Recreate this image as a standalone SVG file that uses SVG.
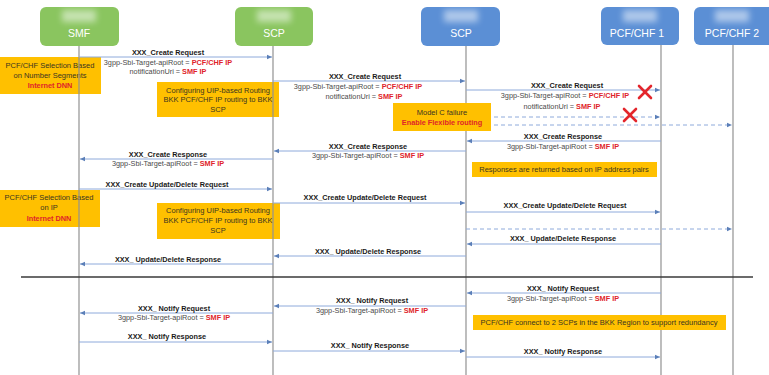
<svg xmlns="http://www.w3.org/2000/svg" width="769" height="375" viewBox="0 0 769 375">
<style>
.t{font-family:"Liberation Sans",Arial,sans-serif;font-size:7.3px;text-anchor:middle}
.lbl{font-weight:bold;fill:#1a1a1a}
.sub{fill:#4a4a4a}
.red{fill:#e0242a;font-weight:bold}
.bt{fill:#3a3520;font-size:7.5px}
.box{fill:#ffc000}
.hdr{font-family:"Liberation Sans",Arial,sans-serif;font-size:10.5px;fill:#ffffff;text-anchor:middle}
.g{fill:#8ac55f}
.b{fill:#5b8fd5}
.life{stroke:#929292;stroke-width:1.2}
.msg{stroke:#8eaadb;stroke-width:1;fill:none;marker-end:url(#ah)}
.dash{stroke-dasharray:4 3}
.x{stroke:#e3262c;stroke-width:2.6;stroke-linecap:round}
.logo{fill:#ffffff;opacity:0.5}
</style>
<defs>
<marker id="ah" markerWidth="6" markerHeight="6" refX="5" refY="3" orient="auto" markerUnits="userSpaceOnUse">
<path d="M0,0.8 L5,3 L0,5.2 z" fill="#5b7fb8"/>
</marker>
<filter id="blur" x="-50%" y="-50%" width="200%" height="200%"><feGaussianBlur stdDeviation="3"/></filter>
</defs>
<rect width="769" height="375" fill="#ffffff"/>

<g id="lifelines">
<line class="life" x1="79" y1="46" x2="79" y2="375"/>
<line class="life" x1="273" y1="46" x2="273" y2="375"/>
<line class="life" x1="466" y1="46" x2="466" y2="375"/>
<line class="life" x1="661" y1="45" x2="661" y2="375"/>
<line class="life" x1="733" y1="45" x2="733" y2="375"/>
</g>

<g id="SMF">
<rect class="g" x="40" y="7" width="79" height="39" rx="6"/>
<rect class="logo" x="62" y="10" width="34" height="12" filter="url(#blur)"/>
<text class="hdr" x="79" y="37">SMF</text>
</g>
<g id="SCP1">
<rect class="g" x="235" y="7" width="78" height="39" rx="6"/>
<rect class="logo" x="257" y="10" width="34" height="12" filter="url(#blur)"/>
<text class="hdr" x="274" y="37">SCP</text>
</g>
<g id="SCP2">
<rect class="b" x="421" y="7" width="79" height="39" rx="6"/>
<rect class="logo" x="444" y="10" width="34" height="12" filter="url(#blur)"/>
<text class="hdr" x="461" y="37">SCP</text>
</g>
<g id="PCF1">
<rect class="b" x="601" y="7" width="78" height="38" rx="6"/>
<rect class="logo" x="623" y="10" width="34" height="12" filter="url(#blur)"/>
<text class="hdr" x="637" y="37">PCF/CHF 1</text>
</g>
<g id="PCF2">
<rect class="b" x="694" y="7" width="80" height="38" rx="6"/>
<rect class="logo" x="715" y="10" width="34" height="12" filter="url(#blur)"/>
<text class="hdr" x="732" y="37">PCF/CHF 2</text>
</g>

<g id="noteNumberSeg">
<rect class="box" x="0" y="57" width="101" height="37"/>
<text class="t bt" x="50" y="68">PCF/CHF Selection Based</text>
<text class="t bt" x="50" y="78">on Number Segments</text>
<text class="t red" x="50" y="88">Internet DNN</text>
</g>
<g id="noteUIP1">
<rect class="box" x="157" y="82" width="122" height="35"/>
<text class="t bt" x="218" y="93">Configuring UIP-based Routing</text>
<text class="t bt" x="218" y="102">BKK PCF/CHF IP routing to BKK</text>
<text class="t bt" x="218" y="112">SCP</text>
</g>
<g id="noteIP">
<rect class="box" x="0" y="190" width="100" height="37"/>
<text class="t bt" x="49" y="200">PCF/CHF Selection Based</text>
<text class="t bt" x="49" y="210">on IP</text>
<text class="t red" x="49" y="221">Internet DNN</text>
</g>
<g id="noteUIP2">
<rect class="box" x="157" y="203" width="123" height="36"/>
<text class="t bt" x="218" y="213">Configuring UIP-based Routing</text>
<text class="t bt" x="218" y="223">BKK PCF/CHF IP routing to BKK</text>
<text class="t bt" x="218" y="233">SCP</text>
</g>
<g id="lifelineOverlay">
<line class="life" x1="79" y1="57" x2="79" y2="94"/>
<line class="life" x1="79" y1="190" x2="79" y2="227"/>
<line class="life" x1="273" y1="82" x2="273" y2="117"/>
<line class="life" x1="273" y1="203" x2="273" y2="239"/>
</g>

<g id="connectors">
<line class="msg" x1="79" y1="57" x2="272" y2="57"/>
<line class="msg" x1="273" y1="81" x2="465" y2="81"/>
<line class="msg" x1="466" y1="90" x2="660" y2="90"/>
<line class="msg dash" x1="466" y1="117" x2="660" y2="117"/>
<line class="msg dash" x1="466" y1="125" x2="732" y2="125"/>
<line class="msg" x1="661" y1="141" x2="467" y2="141"/>
<line class="msg" x1="466" y1="151" x2="274" y2="151"/>
<line class="msg" x1="273" y1="159" x2="80" y2="159"/>
<line class="msg" x1="79" y1="189" x2="272" y2="189"/>
<line class="msg" x1="273" y1="203" x2="465" y2="203"/>
<line class="msg" x1="466" y1="212" x2="660" y2="212"/>
<line class="msg dash" x1="466" y1="229" x2="732" y2="229"/>
<line class="msg" x1="661" y1="244" x2="467" y2="244"/>
<line class="msg" x1="466" y1="256" x2="274" y2="256"/>
<line class="msg" x1="273" y1="264" x2="80" y2="264"/>
<line class="msg" x1="661" y1="293" x2="467" y2="293"/>
<line class="msg" x1="466" y1="306" x2="274" y2="306"/>
<line class="msg" x1="273" y1="313" x2="80" y2="313"/>
<line class="msg" x1="79" y1="342" x2="272" y2="342"/>
<line class="msg" x1="273" y1="351" x2="465" y2="351"/>
<line class="msg" x1="466" y1="357" x2="660" y2="357"/>
<line x1="21" y1="277" x2="753" y2="277" stroke="#3a3a3a" stroke-width="1.5"/>
</g>

<g id="noteModelC">
<rect class="box" x="393" y="103" width="98" height="28"/>
<text class="t bt" x="442" y="115">Model C failure</text>
<text class="t red" x="442" y="125">Enable Flexible routing</text>
</g>
<g id="noteResponses">
<rect class="box" x="472" y="162" width="185" height="15"/>
<text class="t bt" x="564" y="172">Responses are returned based on IP address pairs</text>
</g>
<g id="noteRedundancy">
<rect class="box" x="473" y="315" width="253" height="15"/>
<text class="t bt" x="599" y="325">PCF/CHF connect to 2 SCPs in the BKK Region to support redundancy</text>
</g>

<g id="failures">
<line class="x" x1="639" y1="86" x2="651" y2="98"/>
<line class="x" x1="651" y1="86" x2="639" y2="98"/>
<line class="x" x1="624" y1="109" x2="636" y2="121"/>
<line class="x" x1="636" y1="109" x2="624" y2="121"/>
</g>

<g id="labels">
<text class="t lbl" x="168" y="55">XXX_Create Request</text>
<text class="t sub" x="168" y="65">3gpp-Sbi-Target-apiRoot = <tspan class="red">PCF/CHF IP</tspan></text>
<text class="t sub" x="168" y="74">notificationUri = <tspan class="red">SMF IP</tspan></text>

<text class="t lbl" x="365" y="79">XXX_Create Request</text>
<text class="t sub" x="358" y="89">3gpp-Sbi-Target-apiRoot = <tspan class="red">PCF/CHF IP</tspan></text>
<text class="t sub" x="364" y="99">notificationUri = <tspan class="red">SMF IP</tspan></text>

<text class="t lbl" x="567" y="88">XXX_Create Request</text>
<text class="t sub" x="565" y="98">3gpp-Sbi-Target-apiRoot = <tspan class="red">PCF/CHF IP</tspan></text>
<text class="t sub" x="562" y="109">notificationUri = <tspan class="red">SMF IP</tspan></text>

<text class="t lbl" x="563" y="139">XXX_Create Response</text>
<text class="t sub" x="563" y="149">3gpp-Sbi-Target-apiRoot = <tspan class="red">SMF IP</tspan></text>

<text class="t lbl" x="368" y="149">XXX_Create Response</text>
<text class="t sub" x="368" y="158">3gpp-Sbi-Target-apiRoot = <tspan class="red">SMF IP</tspan></text>

<text class="t lbl" x="168" y="157">XXX_Create Response</text>
<text class="t sub" x="168" y="166">3gpp-Sbi-Target-apiRoot = <tspan class="red">SMF IP</tspan></text>

<text class="t lbl" x="167" y="187">XXX_Create Update/Delete Request</text>
<text class="t lbl" x="365" y="200">XXX_Create Update/Delete Request</text>
<text class="t lbl" x="565" y="208">XXX_Create Update/Delete Request</text>
<text class="t lbl" x="563" y="241">XXX_ Update/Delete Response</text>
<text class="t lbl" x="368" y="254">XXX_ Update/Delete Response</text>
<text class="t lbl" x="168" y="262">XXX_ Update/Delete Response</text>

<text class="t lbl" x="563" y="291">XXX_ Notify Request</text>
<text class="t sub" x="563" y="301">3gpp-Sbi-Target-apiRoot = <tspan class="red">SMF IP</tspan></text>
<text class="t lbl" x="372" y="303">XXX_ Notify Request</text>
<text class="t sub" x="372" y="313">3gpp-Sbi-Target-apiRoot = <tspan class="red">SMF IP</tspan></text>
<text class="t lbl" x="174" y="311">XXX_ Notify Request</text>
<text class="t sub" x="174" y="320">3gpp-Sbi-Target-apiRoot = <tspan class="red">SMF IP</tspan></text>

<text class="t lbl" x="167" y="339">XXX_ Notify Response</text>
<text class="t lbl" x="370" y="348">XXX_ Notify Response</text>
<text class="t lbl" x="563" y="354">XXX_ Notify Response</text>
</g>
</svg>
